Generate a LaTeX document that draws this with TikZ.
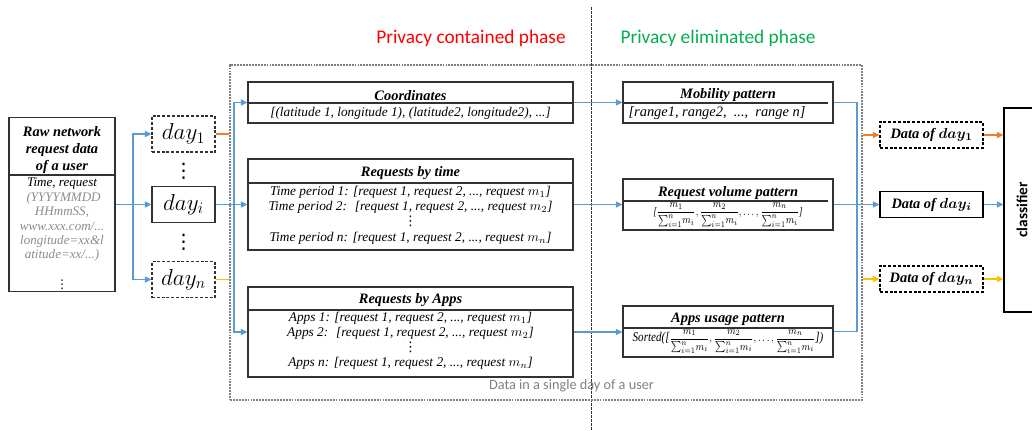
\documentclass[tikz,border=0pt]{standalone}
\usepackage{amsmath}
\usepackage{graphicx}
\usepackage{fontspec}
\setmainfont{Liberation Serif}
\newfontfamily\calib{Carlito}
\newfontfamily\djv{DejaVu Sans}
\usetikzlibrary{arrows.meta}
\definecolor{lblue}{RGB}{91,155,213}
\definecolor{lorange}{RGB}{237,125,49}
\definecolor{lyellow}{RGB}{255,192,0}
\definecolor{pred}{RGB}{255,0,0}
\definecolor{pgreen}{RGB}{0,176,80}
\definecolor{dgray}{RGB}{50,50,50}
\definecolor{tgray}{RGB}{128,128,128}
\definecolor{rgray}{RGB}{140,140,140}
\newcommand{\vd}{{\djv\upshape ⋮}}
\newcommand{\fr}[1]{\dfrac{m_{#1}}{\sum_{i=1}^{n}\! m_i}}
\begin{document}
\begin{tikzpicture}[x=0.75pt,y=-0.75pt,
  box/.style={draw=dgray, line width=0.8pt, inner sep=0pt},
  dbox/.style={box, dash pattern=on 2.2pt off 1.4pt},
  ttl/.style={font=\fontsize{10.8}{12.4}\selectfont\bfseries\itshape, inner sep=0pt, align=center},
  bdy/.style={font=\fontsize{10}{11.6}\selectfont\itshape, inner sep=0pt, align=center},
  daytxt/.style={font=\fontsize{17}{17}\selectfont},
  con/.style={line width=1.1pt},
  arr/.style={con, -{Triangle[length=5pt,width=4.5pt]}},
  divline/.style={draw=dgray, line width=0.8pt},
]
\useasboundingbox (0,0) rectangle (1032,430);

% phase labels and separator
\node[font=\calib\fontsize{14.5}{16}\selectfont, text=pred] (ph1) at (471,38) {Privacy contained phase};
\node[font=\calib\fontsize{14.5}{16}\selectfont, text=pgreen] (ph2) at (718,38) {Privacy eliminated phase};
\draw[dgray, line width=0.6pt, dash pattern=on 2pt off 1pt] (591,7) -- (591,430);

% big dotted box
\node[draw=tgray, line width=1.5pt, dash pattern=on 1.4pt off 0.8pt, minimum width=474pt, minimum height=251.25pt, inner sep=0pt] (big) at (546,232.5) {};
\node[font=\calib\fontsize{10.7}{12}\selectfont, text=tgray] (cap) at (571.5,386) {Data in a single day of a user};

% raw box
\node[box, minimum width=79.5pt, minimum height=130.5pt] (raw) at (62,204.5) {};
\draw[divline] (9,175) -- (115,175);
\node[ttl] (rawt) at (62,150) {Raw network\\request data\\of a user};
\node[bdy, font=\fontsize{9.8}{10.8}\selectfont\itshape] (rawb) at (62,220) {Time, request\\
\textcolor{rgray}{\ (YYYYMMDD}\\
\textcolor{rgray}{HHmmSS,}\\
\textcolor{rgray}{www.xxx.com/...}\\
\textcolor{rgray}{longitude=xx\&l}\\
\textcolor{rgray}{atitude=xx/...)}};
\node[font=\fontsize{9}{9}\selectfont, inner sep=0pt] (rawd) at (62,285) {\vd};

% day boxes
\node[dbox, minimum width=47.25pt, minimum height=27pt, daytxt] (d1) at (183.5,134) {$day_1$};
\node[box, minimum width=47.25pt, minimum height=27pt, daytxt] (di) at (183.5,204.5) {$day_i$};
\node[dbox, minimum width=47.25pt, minimum height=27pt, daytxt] (dn) at (183.5,279.5) {$day_n$};
\node[font=\fontsize{15}{15}\selectfont, inner sep=0pt] (v1) at (183.5,171) {\vd};
\node[font=\fontsize{15}{15}\selectfont, inner sep=0pt] (v2) at (183.5,242) {\vd};

\coordinate (s1) at (133,0);
\draw[con, lblue] (raw.east) -- (raw.east -| s1);
\draw[arr, lblue] (raw.east -| s1) |- (d1.west);
\draw[arr, lblue] (raw.east -| s1) -- (di.west);
\draw[arr, lblue] (raw.east -| s1) |- (dn.west);

% left column boxes
\node[box, minimum width=243.75pt, minimum height=30.75pt] (coord) at (410.5,102.5) {};
\draw[divline] (248,103) -- (573,103);
\node[ttl] (coordt) at (410.5,95.5) {Coordinates};
\node[bdy] (coordb) at (410.5,113.5) {[(latitude 1, longitude 1), (latitude2, longitude2), ...]};

\node[box, minimum width=243.75pt, minimum height=68.25pt] (rtime) at (410.5,204.5) {};
\draw[divline] (248,183) -- (573,183);
\node[ttl] (rtimet) at (410.5,173.5) {Requests by time};
\node[bdy] (rtimeb) at (410.5,215) {Time period 1: [request 1, request 2, ..., request $m_1$]\\
Time period 2: \ [request 1, request 2, ..., request $m_2$]\\
\vd\\
Time period n: [request 1, request 2, ..., request $m_n$]};

\node[box, minimum width=243.75pt, minimum height=67.5pt] (rapps) at (410.5,332) {};
\draw[divline] (248,310) -- (573,310);
\node[ttl] (rappst) at (410.5,300) {Requests by Apps};
\node[bdy, font=\fontsize{10}{11.3}\selectfont\itshape] (rappsb) at (410.5,341) {Apps 1: [request 1, request 2, ..., request $m_1$]\\
Apps 2: \ [request 1, request 2, ..., request $m_2$]\\
\vd\\
Apps n: [request 1, request 2, ..., request $m_n$]};

\coordinate (s2) at (234,0);
\draw[con, lorange] (d1.east) -- (d1.east -| big.west);
\draw[con, lyellow] (dn.east) -- (dn.east -| big.west);
\draw[con, lblue] (di.east) -- (di.east -| s2);
\draw[arr, lblue] (di.east -| s2) |- (coord.west);
\draw[arr, lblue] (di.east -| s2) -- (rtime.west);
\draw[arr, lblue] (di.east -| s2) |- (rapps.west);

% right column boxes
\node[box, minimum width=157.5pt, minimum height=30.75pt] (mob) at (728,102.5) {};
\draw[divline] (623,103) -- (828,103);
\node[ttl] (mobt) at (728,95) {Mobility pattern};
\node[bdy, font=\fontsize{10.8}{12}\selectfont\itshape] (mobb) at (717,113) {[range1, range2, \ ..., \ range n]};

\node[box, minimum width=157.5pt, minimum height=38.25pt] (vol) at (728,204.5) {};
\draw[divline] (623,201) -- (828,201);
\node[ttl] (volt) at (728,193.5) {Request volume pattern};
\node[bdy] (volb) at (728,215) {\scalebox{1}[1.25]{\resizebox{112pt}{!}{\fontsize{8}{9}\selectfont\itshape [$\fr{1}, \fr{2}, \dots, \fr{n}$]}}};

\node[box, minimum width=157.5pt, minimum height=38.25pt] (usage) at (728,331.5) {};
\draw[divline] (623,328) -- (833,328);
\node[ttl] (usaget) at (728,319.5) {Apps usage pattern};
\node[bdy] (usageb) at (728,341.5) {\scalebox{1}[1.2]{\resizebox{143pt}{!}{\fontsize{9.6}{11}\selectfont\itshape Sorted([{\fontsize{8}{9}\selectfont$\fr{1}, \fr{2}, \dots, \fr{n}$}])}}};

\draw[arr, lblue] (coord.east) -- (mob.west);
\draw[arr, lblue] (rtime.east) -- (vol.west);
\draw[arr, lblue] (rapps.east) -- (rapps.east -| usage.west);

% data boxes and classifier
\node[dbox, draw=black, minimum width=77.25pt, minimum height=19.5pt, ttl] (data1) at (931.5,135) {Data of $\boldsymbol{day_1}$};
\node[box, draw=black, minimum width=77.25pt, minimum height=19.5pt, ttl] (datai) at (931.5,204.5) {Data of $\boldsymbol{day_i}$};
\node[dbox, draw=black, minimum width=77.25pt, minimum height=19.5pt, ttl] (datan) at (931.5,279) {Data of $\boldsymbol{day_n}$};

\coordinate (s3) at (857,0);
\draw[con, lblue] (mob.east) -- (mob.east -| s3) -- (usage.east -| s3) -- (usage.east);
\draw[con, lblue] (vol.east) -- (vol.east -| s3);
\draw[arr, lblue] (datai.west -| s3) -- (datai.west);
\draw[arr, lorange] (data1.west -| big.east) -- (data1.west);
\draw[arr, lyellow] (datan.west -| big.east) -- (datan.west);

\node[box, draw=black, minimum width=27pt, minimum height=153pt] (cls) at (1022,210) {};
\node[rotate=90, font=\calib\bfseries\fontsize{11.5}{12}\selectfont, inner sep=0pt] (clst) at (cls.center) {classifier};
\draw[arr, lorange] (data1.east) -- (data1.east -| cls.west);
\draw[arr, lblue] (datai.east) -- (datai.east -| cls.west);
\draw[arr, lyellow] (datan.east) -- (datan.east -| cls.west);
\end{tikzpicture}
\end{document}
